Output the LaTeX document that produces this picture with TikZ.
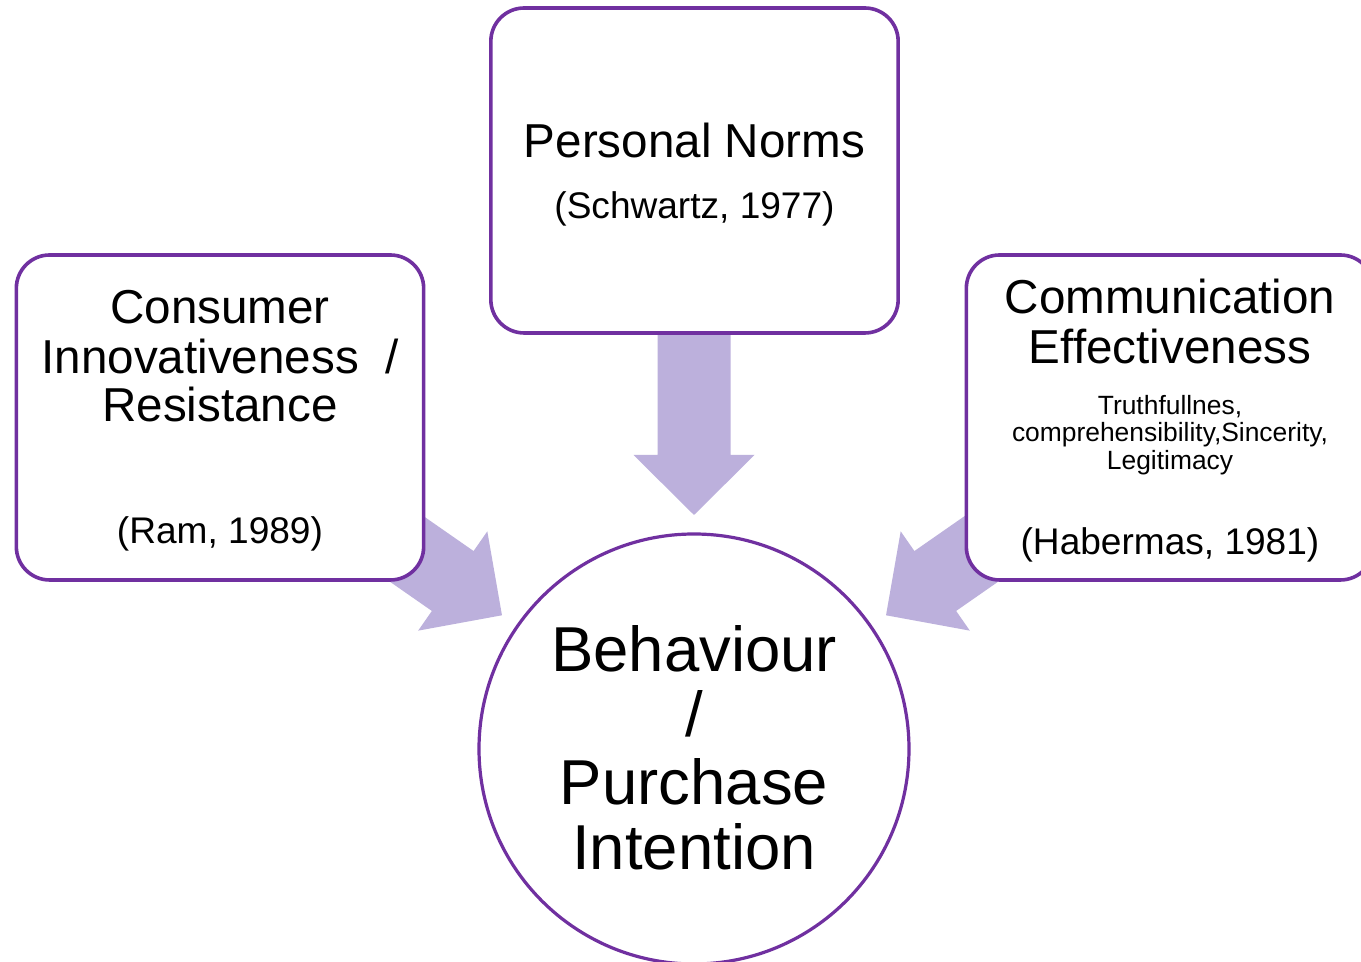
\documentclass[tikz,border=0pt]{standalone}
\usepackage{fontspec}
\setmainfont{Liberation Sans}
\definecolor{bord}{RGB}{112,48,160}
\definecolor{arrfill}{RGB}{188,176,220}
\begin{document}
\begin{tikzpicture}[x=0.75pt,y=0.75pt,
  box/.style={draw=bord,line width=2.7pt,fill=white,rounded corners=25pt,rectangle,inner sep=0pt,minimum width=305.5pt,minimum height=243.75pt},
  circ/.style={draw=bord,line width=2.4pt,fill=white,circle,inner sep=0pt,minimum size=322.5pt},
  big/.style={anchor=base,inner sep=0pt,font=\fontsize{35.7pt}{40pt}\selectfont},
  mid/.style={anchor=base,inner sep=0pt,font=\fontsize{27.8pt}{32pt}\selectfont},
  small/.style={anchor=base,inner sep=0pt,font=\fontsize{19.8pt}{22pt}\selectfont},
  huge/.style={anchor=base,inner sep=0pt,font=\fontsize{47.6pt}{52pt}\selectfont},
  blockarrow/.style={fill=arrfill,draw=none}]
\useasboundingbox (0,0) rectangle (1361,962);
\clip (0,0) rectangle (1361,962);
\fill[white] (0,0) rectangle (1361,962);
\coordinate (cc) at (694,213);
% block arrows
\foreach \ang in {0,55.15,-55.15}{
  \begin{scope}[shift={(cc)},rotate=\ang]
    \fill[blockarrow] (-36.5,460) -- (-36.5,294) -- (-60.5,294) -- (0,234) -- (60.5,294) -- (36.5,294) -- (36.5,460) -- cycle;
  \end{scope}
}
% boxes
\node[box] (top) at (694.5,791.5) {};
\node[box] (lbox) at (220,544.5) {};
\node[box] (rbox) at (1170,544.5) {};
\node[circ] (circ) at (cc) {};
% top text
\node[big] (t1) at (694.5,804) {Personal Norms};
\node[mid] (t2) at (694.5,743) {(Schwartz, 1977)};
% left text
\node[big] (l1) at (220,638) {Consumer};
\node[big] (l2) at (220,588) {Innovativeness\ \ /};
\node[big] (l3) at (220,540) {Resistance};
\node[mid] (l4) at (220,418) {(Ram, 1989)};
% right text
\node[big] (r1) at (1170,648) {Communication};
\node[big] (r2) at (1170,598) {Effectiveness};
\node[small] (r3) at (1170,547) {Truthfullnes,};
\node[small] (r4) at (1170,520) {comprehensibility,Sincerity,};
\node[small] (r5) at (1170,492) {Legitimacy};
\node[mid] (r6) at (1170,407) {(Habermas, 1981)};
% circle text
\node[huge] (c1) at (694,290) {Behaviour};
\node[huge] (c2) at (694,225) {/};
\node[huge] (c3) at (694,157) {Purchase};
\node[huge] (c4) at (694,92) {Intention};
\end{tikzpicture}
\end{document}
